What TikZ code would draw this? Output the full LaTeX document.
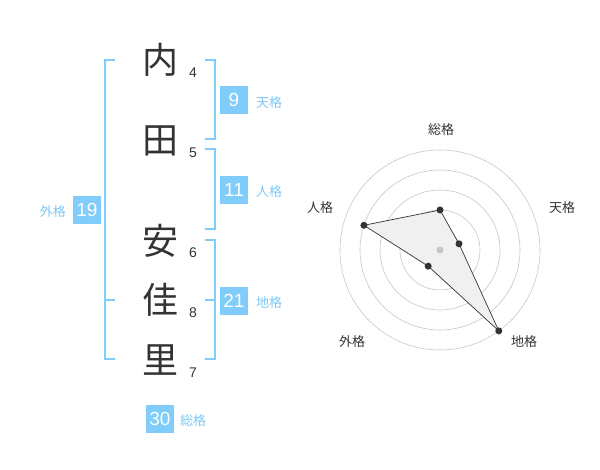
\documentclass[tikz,border=0pt]{standalone}
\usepackage{fontspec}
\setmainfont{Liberation Sans}
\newfontfamily\jp{Noto Sans CJK JP}
\definecolor{kakublue}{RGB}{128,204,250}
\definecolor{kakutext}{RGB}{125,200,245}
\definecolor{inkgray}{RGB}{51,51,51}
\tikzset{
	kanji/.style={font=\jp\fontsize{36}{36}\selectfont, text=inkgray, inner sep=0pt},
	kakusu/.style={font=\fontsize{14}{14}\selectfont, text=inkgray, inner sep=0pt},
	kakubox/.style={fill=kakublue, text=white, minimum size=28pt, inner sep=0pt, font=\fontsize{19}{19}\selectfont},
	kakulabel/.style={font=\jp\fontsize{13}{13}\selectfont, text=kakutext, inner sep=0pt},
	bracket/.style={draw=kakublue, line width=2pt},
	ring/.style={draw=black!22, line width=0.6pt},
	axislabel/.style={font=\jp\fontsize{13}{13}\selectfont, text=inkgray, inner sep=0pt}
}
\begin{document}
\begin{tikzpicture}[x=1pt,y=-1pt]
			\useasboundingbox (0,0) rectangle (600,470);
			\node[kanji] (uchi) at (160,60) {内};
			\node[kanji] (ta) at (160,141) {田};
			\node[kanji] (an) at (160,241) {安};
			\node[kanji] (ka) at (160,300) {佳};
			\node[kanji] (ri) at (160,360) {里};
			\node[kakusu] (n1) at (193,73) {4};
			\node[kakusu] (n2) at (193,153) {5};
			\node[kakusu] (n3) at (193,253) {6};
			\node[kakusu] (n4) at (193,313) {8};
			\node[kakusu] (n5) at (193,373) {7};
			\draw[bracket] (205,60) -- (215,60) -- (215,139) -- (205,139);
			\draw[bracket] (205,149) -- (215,149) -- (215,229) -- (205,229);
			\draw[bracket] (205,240) -- (215,240) -- (215,359) -- (205,359);
			\draw[bracket] (205,300) -- (215,300);
			\draw[bracket] (115,60) -- (105,60) -- (105,359) -- (115,359);
			\draw[bracket] (105,300) -- (115,300);
			\node[kakubox] (tenbox) at (234,100) {9};
			\node[kakulabel, anchor=west] (tenlabel) at (256,103) {天格};
			\node[kakubox] (jinbox) at (234,190) {11};
			\node[kakulabel, anchor=west] (jinlabel) at (256,192) {人格};
			\node[kakubox] (chibox) at (234,301) {21};
			\node[kakulabel, anchor=west] (chilabel) at (256,303) {地格};
			\node[kakubox] (gaibox) at (87,210) {19};
			\node[kakulabel, anchor=east] (gailabel) at (66,212) {外格};
			\node[kakubox] (soubox) at (160,419) {30};
			\node[kakulabel, anchor=west] (soulabel) at (180,421) {総格};
			\draw[ring] (440,250) circle (20);
			\draw[ring] (440,250) circle (40);
			\draw[ring] (440,250) circle (60);
			\draw[ring] (440,250) circle (80);
			\draw[ring] (440,250) circle (100);
			\coordinate (zong) at (440,210);
			\coordinate (ten) at (459.0,243.8);
			\coordinate (chi) at (498.8,330.9);
			\coordinate (gai) at (428.2,266.2);
			\coordinate (jin) at (363.9,225.3);
			\draw[inkgray, line width=0.7pt, fill=black!6] (zong) -- (ten) -- (chi) -- (gai) -- (jin) -- cycle;
			\fill[black!22] (440,250) circle (3.5);
			\fill[inkgray] (zong) circle (3.5);
			\fill[inkgray] (ten) circle (3.5);
			\fill[inkgray] (chi) circle (3.5);
			\fill[inkgray] (gai) circle (3.5);
			\fill[inkgray] (jin) circle (3.5);
			\node[axislabel] (zonglabel) at (441,130) {総格};
			\node[axislabel] (tenaxis) at (562,208) {天格};
			\node[axislabel] (jinaxis) at (320,208) {人格};
			\node[axislabel] (gaiaxis) at (352,342) {外格};
			\node[axislabel] (chiaxis) at (524,342) {地格};
\end{tikzpicture}
\end{document}
